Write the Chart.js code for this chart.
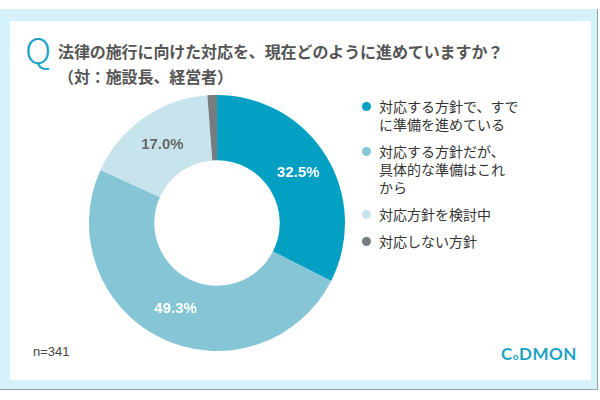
<!DOCTYPE html>
<html>
<head>
<meta charset="utf-8">
<script src="https://cdn.jsdelivr.net/npm/chart.js@4"></script>
<style>
  body { margin: 0; width: 600px; height: 400px; background: #fff; position: relative; overflow: hidden; font-family: "Noto Sans CJK JP", sans-serif; }
  .frame { position: absolute; left: 0; top: 9px; width: 597px; height: 380px; background: #d5f2fa; border-right: 1px solid #8fa3a9; border-bottom: 1px solid #8fa3a9; }
  .panel { position: absolute; left: 10px; top: 21px; width: 581px; height: 359px; background: #fff; }
  .q { position: absolute; left: 25px; top: 30px; font-size: 36px; line-height: 36px; font-weight: 200; color: #1aa3c4; font-family: "Noto Sans CJK JP", sans-serif; }
  .title { position: absolute; left: 58px; top: 39px; font-size: 16px; line-height: 24.5px; font-weight: bold; color: #555; letter-spacing: -0.1px; }
  .legend { position: absolute; left: 362px; top: 97px; font-size: 14px; line-height: 18px; color: #333; }
  .legend .item { position: relative; padding-left: 17px; margin-bottom: 9px; }
  .legend .dot { position: absolute; left: 0; top: 4.5px; width: 9px; height: 9px; border-radius: 50%; }
  .n { position: absolute; left: 33px; top: 344px; font-size: 13px; color: #444; font-family: "Liberation Sans", Arial, sans-serif; }
  .logo { position: absolute; left: 501px; top: 343px; font-size: 17px; font-weight: bold; color: #1aa3c4; font-family: "Lato", "Liberation Sans", sans-serif; letter-spacing: 0.5px; }
  .logo small { font-size: 10px; }
  #chartBox { position: absolute; left: 89px; top: 95px; width: 256px; height: 256px; }
</style>
</head>
<body>
<div class="frame"></div>
<div class="panel"></div>
<div class="q">Q</div>
<div class="title">法律の施行に向けた対応を、現在どのように進めていますか？<br>（対：施設長、経営者）</div>
<div id="chartBox"><canvas id="pie" width="256" height="256"></canvas></div>
<div class="legend" id="legend"></div>
<div class="n">n=341</div>
<div class="logo">C<small>o</small>DMON</div>
<script>
const categories = [
  ['対応する方針で、すで', 'に準備を進めている'],
  ['対応する方針だが、', '具体的な準備はこれ', 'から'],
  ['対応方針を検討中'],
  ['対応しない方針']
];
const values = [32.5, 49.3, 17.0, 1.2];
const colors = ['#03a0c3', '#86c5d6', '#c7e4ec', '#777c7e'];
const labelColors = ['#fff', '#fff', '#666', null];

// legend as html
const legend = document.getElementById('legend');
categories.forEach((lines, i) => {
  const item = document.createElement('div');
  item.className = 'item';
  item.innerHTML = '<span class="dot" style="background:' + colors[i] + '"></span>' + lines.join('<br>');
  legend.appendChild(item);
});

// percentage text in the middle of each slice
const sliceLabels = {
  id: 'sliceLabels',
  afterDatasetsDraw(chart) {
    const ctx = chart.ctx;
    const meta = chart.getDatasetMeta(0);
    ctx.save();
    ctx.font = 'bold 15px "Liberation Sans", Arial, sans-serif';
    ctx.textAlign = 'center';
    ctx.textBaseline = 'middle';
    meta.data.forEach((arc, i) => {
      if (!labelColors[i]) return;
      const p = arc.tooltipPosition();
      ctx.fillStyle = labelColors[i];
      ctx.fillText(values[i].toFixed(1) + '%', p.x, p.y);
    });
    ctx.restore();
  }
};

new Chart(document.getElementById('pie'), {
  type: 'doughnut',
  data: {
    labels: categories.map(l => l.join('')),
    datasets: [{
      data: values,
      backgroundColor: colors,
      borderWidth: 0
    }]
  },
  options: {
    responsive: false,
    animation: false,
    cutout: '49%',
    plugins: {
      legend: { display: false },
      tooltip: { enabled: false }
    }
  },
  plugins: [sliceLabels]
});
</script>
</body>
</html>
